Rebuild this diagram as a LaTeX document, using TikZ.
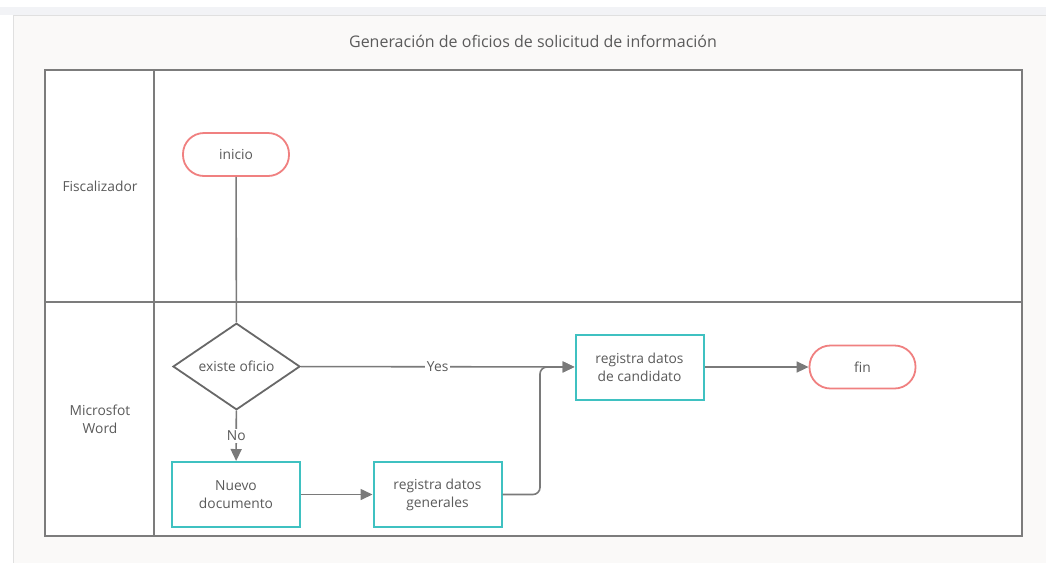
\documentclass[tikz,border=0pt]{standalone}
\usepackage{fontspec}
\setmainfont{Open Sans}
\usetikzlibrary{arrows.meta,shapes.geometric}
\definecolor{txt}{HTML}{5A5A5A}
\definecolor{frame}{HTML}{7C7C7C}
\definecolor{conn}{HTML}{7A7A7A}
\definecolor{salmon}{HTML}{F08080}
\definecolor{teal}{HTML}{3FC1C1}
\definecolor{panel}{HTML}{FAF9F8}
\definecolor{strip}{HTML}{F2F3F6}
\tikzset{
  every node/.style={text=txt, font=\fontsize{13.8}{18}\selectfont},
  terminal/.style={draw=salmon, line width=1.8pt, fill=white, rounded corners=21pt, minimum width=106pt, minimum height=43pt, inner sep=0pt},
  procbox/.style={draw=teal, line width=2pt, fill=white, minimum width=128pt, minimum height=65pt, align=center, inner sep=0pt},
  decision/.style={draw=conn!85!black, line width=1.8pt, fill=white, diamond, minimum width=127pt, minimum height=85pt, inner sep=0pt},
  connector/.style={draw=conn, line width=1.6pt, -{Triangle[length=12pt,width=11pt]}},
  plainline/.style={draw=conn, line width=1.6pt},
  edgelabel/.style={fill=white, inner sep=2pt},
  lanetext/.style={align=center}
}
\begin{document}
\begin{tikzpicture}[x=1pt,y=-1pt]
\useasboundingbox (0,0) rectangle (1046,563);
\fill[white] (0,0) rectangle (1046,563);
\fill[strip] (0,7) rectangle (1046,15);
\fill[panel] (13,15) rectangle (1046,563);
\draw[black!12, line width=1pt] (13,15.5) -- (1046,15.5);
\draw[black!12, line width=1pt] (13.5,15) -- (13.5,563);
\fill[white] (45,70) rectangle (1022,536);
\draw[frame, line width=1.6pt] (45,70) rectangle (1022,536);
\draw[frame, line width=1.6pt] (154,70) -- (154,536);
\draw[frame, line width=1.6pt] (45,302) -- (1022,302);

\node[font=\fontsize{16}{19}\selectfont] (title) at (533,41) {Generación de oficios de solicitud de información};
\node[lanetext] (lane1) at (100,186) {Fiscalizador};
\node[lanetext] (lane2) at (100,419) {Microsfot\\Word};

\node[terminal] (inicio) at (236,154.5) {inicio};
\node[decision] (dec) at (236.5,366.5) {existe oficio};
\node[procbox] (nuevo) at (236,494.5) {Nuevo\\documento};
\node[procbox] (gen) at (437.5,494.5) {registra datos\\generales};
\node[procbox] (cand) at (639.5,367) {registra datos\\de candidato};
\node[terminal] (fin) at (862.5,367) {fin};

\coordinate (jb) at (540,494.5);
\coordinate (jt) at (540,367);

\draw[plainline] (inicio) -- (dec);
\draw[connector] (dec) -- node[edgelabel] {No} (nuevo);
\draw[connector] (dec) -- node[edgelabel] {Yes} (cand);
\draw[connector] (nuevo) -- (gen);
\draw[connector, rounded corners=7pt] (gen.east) -- (jb) -- (jt) -- (cand.west);
\draw[connector] (cand) -- (fin);
\end{tikzpicture}
\end{document}
